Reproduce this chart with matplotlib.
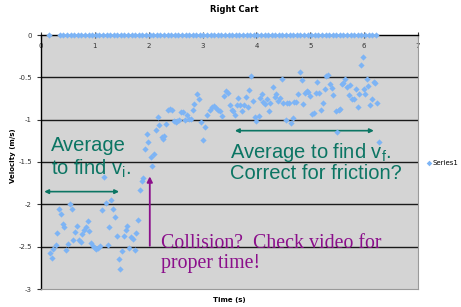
#!/usr/bin/env python3
"""
Right cart velocity vs time, with annotations on averaging before/after collision.
Output: out.png
"""
import matplotlib
matplotlib.use("Agg")
import matplotlib.pyplot as plt
import numpy as np

# velocity samples (time in s, velocity in m/s)
time_s = [
    0.16, 0.20, 0.23, 0.27, 0.30, 0.33, 0.37, 0.40, 0.43, 0.47,
    0.50, 0.54, 0.57, 0.60, 0.64, 0.67, 0.70, 0.74, 0.77, 0.80,
    0.84, 0.87, 0.90, 0.93, 0.97, 1.00, 1.03, 1.06, 1.10, 1.13,
    1.17, 1.20, 1.24, 1.27, 1.30, 1.34, 1.37, 1.41, 1.44, 1.47,
    1.50, 1.54, 1.57, 1.60, 1.64, 1.67, 1.70, 1.74, 1.77, 1.80,
    1.84, 1.87, 1.90, 1.93, 1.96, 1.99, 2.04, 2.07, 2.10, 2.14,
    2.17, 2.20, 2.24, 2.27, 2.29, 2.33, 2.36, 2.40, 2.43, 2.47,
    2.50, 2.53, 2.57, 2.60, 2.64, 2.67, 2.72, 2.75, 2.78, 2.82,
    2.85, 2.89, 2.93, 2.97, 3.00, 3.04, 3.08, 3.14, 3.17, 3.21,
    3.25, 3.29, 3.32, 3.36, 3.40, 3.43, 3.47, 3.51, 3.55, 3.57,
    3.60, 3.63, 3.66, 3.69, 3.73, 3.76, 3.80, 3.84, 3.87, 3.90,
    3.94, 3.97, 4.00, 4.04, 4.07, 4.10, 4.13, 4.16, 4.20, 4.23,
    4.26, 4.30, 4.34, 4.37, 4.40, 4.44, 4.47, 4.50, 4.54, 4.57,
    4.60, 4.64, 4.67, 4.70, 4.73, 4.77, 4.80, 4.84, 4.87, 4.90,
    4.93, 4.96, 4.99, 5.03, 5.06, 5.10, 5.13, 5.17, 5.20, 5.24,
    5.27, 5.30, 5.33, 5.37, 5.40, 5.43, 5.47, 5.50, 5.53, 5.55,
    5.58, 5.61, 5.64, 5.68, 5.71, 5.74, 5.78, 5.81, 5.85, 5.88,
    5.91, 5.95, 5.97, 6.00, 6.02, 6.05, 6.08, 6.11, 6.15, 6.18,
    6.21, 6.24, 6.27,
]
velocity = [
    -2.58, -2.63, -2.53, -2.48, -2.34, -2.05, -2.11, -2.23, -2.27, -2.54,
    -2.47, -2.00, -2.06, -2.42, -2.33, -2.26, -2.42, -2.44, -2.35, -2.30,
    -2.27, -2.20, -2.32, -2.46, -2.49, -2.52, -2.53, -2.51, -2.49, -2.07,
    -1.68, -1.99, -2.48, -2.27, -1.95, -2.05, -2.15, -2.37, -2.64, -2.76,
    -2.55, -2.37, -2.30, -2.26, -2.51, -2.39, -2.41, -2.54, -2.34, -2.19,
    -1.83, -1.72, -1.69, -1.35, -1.17, -1.26, -1.44, -1.55, -1.40, -1.12,
    -0.97, -1.06, -1.20, -1.23, -1.19, -1.05, -0.89, -0.87, -0.89, -1.01,
    -1.03, -1.01, -1.00, -0.91, -0.91, -1.00, -0.94, -0.99, -0.99, -0.88,
    -0.81, -0.70, -0.76, -1.03, -1.24, -1.09, -0.95, -0.88, -0.85, -0.84,
    -0.86, -0.89, -0.90, -0.96, -0.72, -0.66, -0.68, -0.83, -0.88, -0.90,
    -0.94, -0.83, -0.74, -0.83, -0.90, -0.83, -0.73, -0.85, -0.65, -0.48,
    -0.78, -0.97, -1.02, -0.96, -0.74, -0.70, -0.79, -0.81, -0.76, -0.90,
    -0.80, -0.61, -0.73, -0.70, -0.78, -0.74, -0.52, -0.80, -1.00, -0.80,
    -0.80, -1.04, -0.98, -0.79, -0.79, -0.70, -0.44, -0.53, -0.81, -0.68,
    -0.66, -0.67, -0.72, -0.93, -0.92, -0.69, -0.56, -0.68, -0.89, -0.80,
    -0.64, -0.48, -0.47, -0.58, -0.63, -0.71, -0.90, -1.15, -0.88, -0.87,
    -0.58, -0.57, -0.52, -0.62, -0.71, -0.59, -0.75, -0.76, -0.64, -0.85,
    -0.70, -0.36, -0.26, -0.64, -0.70, -0.52, -0.60, -0.83, -0.75, -0.56,
    -0.57, -0.80, -1.26,
]

# the flat row of zeros along the top axis
zero_start, zero_stop, zero_step = 0.35, 6.22, 1 / 15
zero_first = 0.15

y_ticks = [0, -0.5, -1, -1.5, -2, -2.5, -3]
y_tick_labels = ["0", "-0.5", "-1", "-1.5", "-2", "-2.5", "-3"]
x_ticks = [0, 1, 2, 3, 4, 5, 6, 7]

PLOT_BG = "#D4D4D4"
POINT = "#7DB4F5"
GREEN = "#0B7563"
PURPLE = "#8B0F8B"


def main():
    fig = plt.figure(figsize=(4.61, 3.07), dpi=100, facecolor="white")
    ax = fig.add_axes([41 / 461, 1 - 289 / 307, 377 / 461, 254 / 307])
    ax.set_facecolor(PLOT_BG)

    zero_t = np.concatenate([[zero_first], np.arange(zero_start, zero_stop, zero_step)])
    ax.scatter(zero_t, np.zeros_like(zero_t), marker="D", s=10, color=POINT,
               linewidths=0, zorder=4, clip_on=False)
    ax.scatter(time_s, velocity, marker="D", s=10, color=POINT, linewidths=0,
               zorder=4, label="Series1")

    ax.set_xlim(0, 7)
    ax.set_ylim(-3, 0)
    for yv in y_ticks[1:-1]:
        ax.axhline(yv, color="#1a1a1a", linewidth=1.0, zorder=1)

    ax.set_yticks(y_ticks)
    ax.set_yticklabels(y_tick_labels)
    ax.set_xticks(x_ticks)
    ax.xaxis.tick_top()
    ax.tick_params(axis="x", direction="inout", length=4, labelsize=5,
                   pad=-12, width=0.8, colors="#333333")
    ax.tick_params(axis="y", direction="out", length=3, labelsize=5,
                   width=0.8, colors="#333333")

    ax.spines["top"].set_color("black")
    ax.spines["top"].set_linewidth(1.0)
    ax.spines["left"].set_color("black")
    ax.spines["left"].set_linewidth(1.0)
    ax.spines["right"].set_color("#9a9a9a")
    ax.spines["bottom"].set_color("#9a9a9a")

    fig.text(234 / 461, 1 - 10 / 307, "Right Cart", ha="center", va="center",
             fontsize=6, fontweight="bold")
    fig.text(229 / 461, 1 - 300 / 307, "Time (s)", ha="center", va="center",
             fontsize=5, fontweight="bold")
    fig.text(13 / 461, 1 - 156 / 307, "Velocity (m/s)", ha="center",
             va="center", rotation=90, fontsize=5, fontweight="bold")

    fig.legend(loc="center left", bbox_to_anchor=(426 / 461, 1 - 163 / 307),
               frameon=False, fontsize=5, handletextpad=0.1,
               markerscale=0.9, borderpad=0, borderaxespad=0,
               handlelength=0.8)

    sans = "Liberation Sans"
    serif = "Liberation Serif"
    ax.text(0.19, -1.45, "Average\nto find v$_\\mathregular{i}$.", color=GREEN,
            fontsize=14.5, family=sans, ha="left", va="center", linespacing=1.15)
    ax.annotate("", xy=(0.06, -1.85), xytext=(1.45, -1.85),
                arrowprops=dict(arrowstyle="<|-|>", color=GREEN, lw=1.2,
                                mutation_scale=6, shrinkA=0, shrinkB=0))
    ax.text(3.5, -1.5, "Average to find v$_\\mathregular{f}$.\nCorrect for friction?",
            color=GREEN, fontsize=14.5, family=sans, ha="left", va="center",
            linespacing=0.98)
    ax.annotate("", xy=(3.6, -1.13), xytext=(6.18, -1.13),
                arrowprops=dict(arrowstyle="<|-|>", color=GREEN, lw=1.2,
                                mutation_scale=6, shrinkA=0, shrinkB=0))

    ax.annotate("", xy=(2.02, -1.67), xytext=(2.02, -2.49),
                arrowprops=dict(arrowstyle="-|>", color=PURPLE, lw=1.3,
                                mutation_scale=8, shrinkA=0, shrinkB=0))
    ax.text(2.22, -2.58, "Collision?  Check video for\nproper time!",
            color=PURPLE, fontsize=14.3, family=serif, ha="left", va="center",
            linespacing=1.08)

    fig.savefig("out.png", dpi=100, facecolor="white")
    plt.close(fig)


if __name__ == "__main__":
    main()
